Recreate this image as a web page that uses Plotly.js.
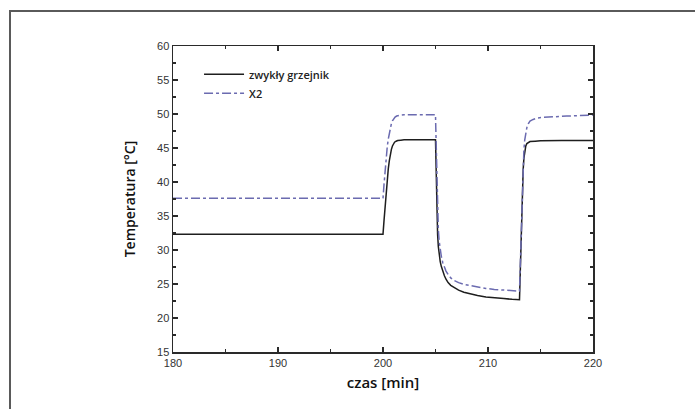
<!DOCTYPE html>
<html>
<head>
<meta charset="utf-8">
<script src="https://cdn.plot.ly/plotly-3.0.1.min.js"></script>
<style>
  html, body { margin: 0; padding: 0; background: #fff; }
  #frame { position: absolute; left: 9px; top: 10px; width: 700px; height: 420px;
           border-left: 2px solid #5a5a5a; border-top: 2px solid #5a5a5a; }
  #chart { position: absolute; left: 0; top: 0; width: 695px; height: 409px; }
</style>
</head>
<body>
<div id="frame"></div>
<div id="chart"></div>
<script>
// time [min] and temperature [°C]
const timeRadiator = [180, 200, 200.1, 200.2, 200.3, 200.4, 200.5, 200.6, 200.7, 200.8, 200.9, 201.0, 201.1, 201.25, 201.4, 201.7, 202, 205,
  205.03, 205.07, 205.1, 205.15, 205.2, 205.27, 205.35, 205.45, 205.55, 205.7, 205.85, 206.0, 206.2, 206.45, 206.8, 207.2, 207.7, 208.3, 209.0, 209.8, 210.6, 211.5, 212.3, 212.9, 213,
  213.05, 213.1, 213.15, 213.2, 213.25, 213.3, 213.35, 213.42, 213.5, 213.6, 213.7, 213.85, 214, 214.5, 215, 217, 220];
const tempRadiator = [32.3, 32.3, 34.4, 36.5, 38.5, 40.3, 41.9, 43.1, 44.1, 44.8, 45.3, 45.6, 45.85, 46.0, 46.1, 46.15, 46.2, 46.2,
  43.5, 40.0, 37.5, 34.5, 32.3, 30.5, 29.3, 28.3, 27.6, 26.8, 26.2, 25.7, 25.2, 24.8, 24.45, 24.1, 23.8, 23.55, 23.3, 23.1, 22.95, 22.85, 22.75, 22.7, 22.7,
  25.5, 28.5, 31.5, 34.5, 37.3, 39.8, 41.8, 43.5, 44.6, 45.3, 45.65, 45.85, 45.95, 46.0, 46.05, 46.1, 46.1];

const timeX2 = [180, 200, 200.1, 200.2, 200.3, 200.4, 200.5, 200.6, 200.7, 200.8, 200.9, 201.0, 201.15, 201.3, 201.5, 201.7, 202, 205,
  205.03, 205.07, 205.1, 205.15, 205.2, 205.27, 205.35, 205.45, 205.55, 205.7, 205.85, 206.0, 206.2, 206.45, 206.8, 207.2, 207.7, 208.3, 209.0, 209.8, 210.6, 211.5, 212.3, 212.9, 213,
  213.05, 213.1, 213.15, 213.2, 213.25, 213.3, 213.35, 213.42, 213.5, 213.6, 213.7, 213.85, 214, 214.3, 214.7, 215.2, 216, 217.5, 220];
const tempX2 = [37.6, 37.6, 39.7, 41.8, 43.6, 45.1, 46.3, 47.3, 48.0, 48.6, 49.0, 49.3, 49.55, 49.7, 49.8, 49.85, 49.9, 49.9,
  47.8, 44.5, 42.0, 38.5, 35.5, 33.0, 31.3, 30.0, 29.1, 28.1, 27.4, 26.9, 26.4, 25.9, 25.5, 25.2, 24.95, 24.75, 24.55, 24.35, 24.2, 24.1, 24.0, 23.95, 23.95,
  26.5, 29.5, 32.5, 35.5, 38.3, 40.8, 42.9, 44.8, 46.2, 47.3, 48.0, 48.6, 48.95, 49.2, 49.4, 49.5, 49.6, 49.7, 49.85];

const seriesNames = ['zwykły grzejnik', 'X2'];
const xTicks = [180, 190, 200, 210, 220];
const yTicks = [15, 20, 25, 30, 35, 40, 45, 50, 55, 60];

const traces = [
  { x: timeRadiator, y: tempRadiator, name: seriesNames[0], type: 'scatter', mode: 'lines',
    line: { color: '#1e1e1e', width: 1.5 } },
  { x: timeX2, y: tempX2, name: seriesNames[1], type: 'scatter', mode: 'lines',
    line: { color: '#6b6bb0', width: 1.5, dash: 'dashdot' } }
];

const axisCommon = {
  showgrid: false, zeroline: false, showline: true, linecolor: '#2a2a2a', linewidth: 1.5,
  mirror: 'ticks', ticks: 'inside', ticklen: 5, tickwidth: 1.3, tickcolor: '#2a2a2a',
  tickfont: { family: 'Liberation Sans, Arial, sans-serif', size: 11, color: '#333' }
};

const layout = {
  width: 695, height: 409,
  margin: { l: 173, r: 102, t: 46, b: 57, pad: 0 },
  paper_bgcolor: 'rgba(0,0,0,0)', plot_bgcolor: 'rgba(0,0,0,0)',
  showlegend: true,
  legend: { x: 0.062, y: 0.955, xanchor: 'left', yanchor: 'top', bgcolor: 'rgba(0,0,0,0)',
    font: { family: 'Open Sans, sans-serif', size: 11, color: '#222', weight: 600 },
    tracegroupgap: 0, itemwidth: 40 },
  xaxis: Object.assign({}, axisCommon, {
    range: [180, 220], tickvals: xTicks, ticktext: xTicks.map(String),
    minor: { dtick: 5, tick0: 180, ticks: 'inside', ticklen: 3, tickcolor: '#2a2a2a', tickwidth: 1.2 },
    title: { text: 'czas [min]', standoff: 10,
      font: { family: 'Open Sans, sans-serif', size: 15, color: '#111', weight: 600 } }
  }),
  yaxis: Object.assign({}, axisCommon, {
    range: [15, 60], tickvals: yTicks, ticktext: yTicks.map(String),
    minor: { dtick: 2.5, tick0: 15, ticks: 'inside', ticklen: 3, tickcolor: '#2a2a2a', tickwidth: 1.2 },
    title: { text: 'Temperatura [°C]', standoff: 18,
      font: { family: 'Open Sans, sans-serif', size: 14, color: '#111', weight: 600 } }
  })
};

Plotly.newPlot('chart', traces, layout, { displayModeBar: false, staticPlot: true });
</script>
</body>
</html>
